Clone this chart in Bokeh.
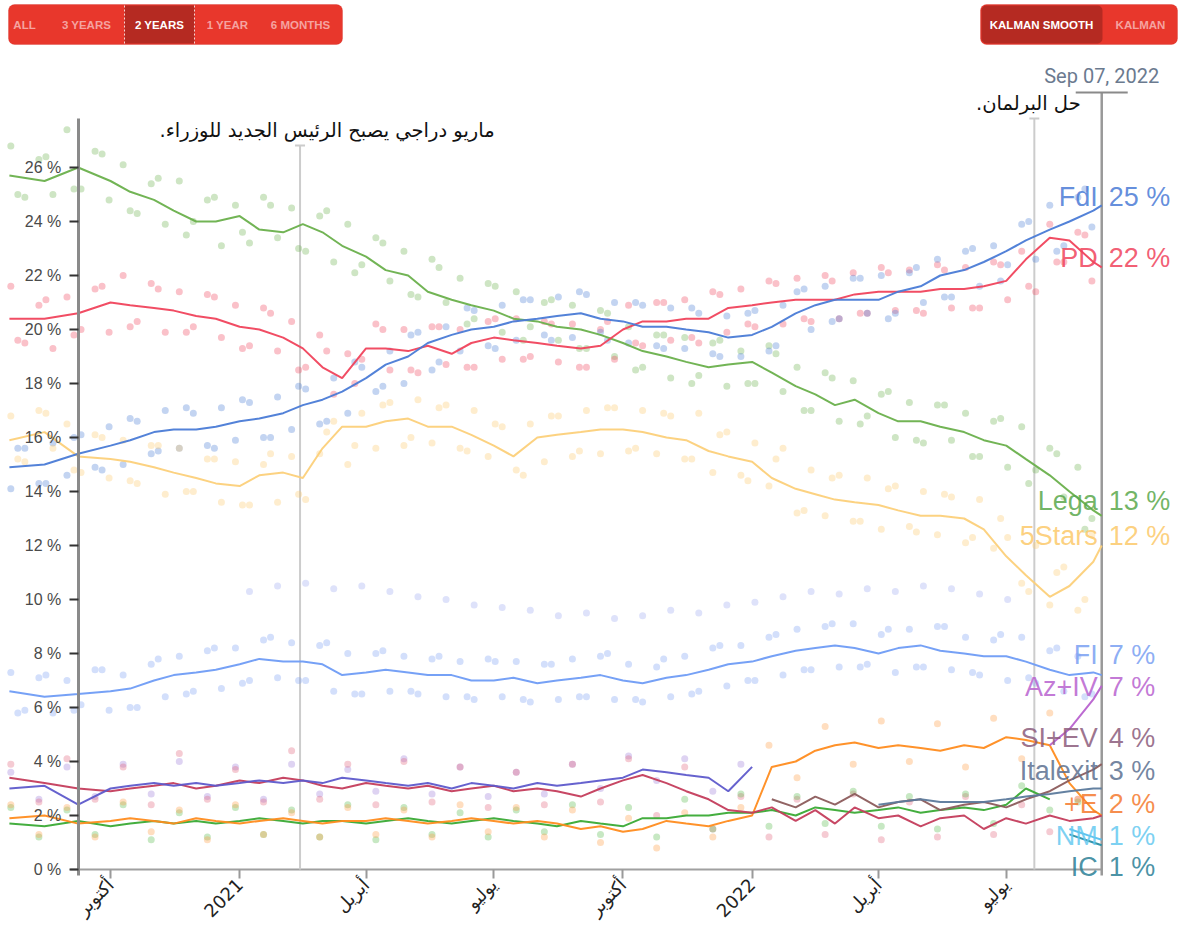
import numpy as np
import pandas as pd
from math import pi
from bokeh.plotting import figure
from bokeh.models import (ColumnDataSource, Range1d, LinearAxis, FixedTicker,
                          PrintfTickFormatter, BoxAnnotation, Label, LabelSet)
from bokeh.core.properties import value
from bokeh.embed import file_html
from bokeh.resources import INLINE

N = None

# ---------------- data ----------------
line_dates = ["2020-07-21", "2020-08-15", "2020-09-08", "2020-10-01", "2020-10-15", "2020-11-01",
              "2020-11-15", "2020-12-01", "2020-12-15", "2021-01-01", "2021-01-15", "2021-02-01",
              "2021-02-15", "2021-03-01", "2021-03-15", "2021-04-01", "2021-04-15", "2021-05-01",
              "2021-05-15", "2021-06-01", "2021-06-15", "2021-07-01", "2021-07-15", "2021-08-01",
              "2021-08-15", "2021-09-01", "2021-09-15", "2021-10-01", "2021-10-15", "2021-11-01",
              "2021-11-15", "2021-12-01", "2021-12-15", "2022-01-01", "2022-01-15", "2022-02-01",
              "2022-02-15", "2022-03-01", "2022-03-15", "2022-04-01", "2022-04-15", "2022-05-01",
              "2022-05-15", "2022-06-01", "2022-06-15", "2022-07-01", "2022-07-15", "2022-08-01",
              "2022-08-15", "2022-09-01", "2022-09-07"]

lega = [25.7, 25.5, 26.0, 25.5, 25.1, 24.8, 24.4, 24.0, 24.0, 24.2, 23.7, 23.6, 23.9, 23.6, 23.1,
        22.7, 22.2, 22.0, 21.4, 21.1, 20.9, 20.7, 20.4, 20.3, 20.1, 20.0, 19.8, 19.5, 19.2, 19.0,
        18.8, 18.6, 18.7, 18.8, 18.4, 17.9, 17.6, 17.2, 17.4, 16.9, 16.6, 16.6, 16.4, 16.2, 15.9,
        15.7, 15.2, 14.6, 14.0, 13.3, 13.1]
m5s = [15.9, 16.2, 15.3, 15.2, 15.1, 14.9, 14.7, 14.5, 14.3, 14.2, 14.6, 14.7, 14.5, 15.6, 16.4,
       16.4, 16.6, 16.7, 16.4, 16.4, 16.1, 15.7, 15.3, 16.0, 16.1, 16.2, 16.3, 16.3, 16.2, 16.0,
       15.9, 15.5, 15.3, 15.1, 14.5, 14.1, 13.9, 13.7, 13.6, 13.5, 13.3, 13.1, 13.1, 13.0, 12.6,
       11.6, 10.9, 10.1, 10.5, 11.4, 12.0]
pd_ = [20.4, 20.4, 20.6, 21.0, 20.9, 20.8, 20.7, 20.5, 20.4, 20.1, 20.0, 19.7, 19.3, 18.6, 18.2,
       19.3, 19.3, 19.2, 19.4, 19.1, 19.5, 19.7, 19.6, 19.5, 19.4, 19.3, 19.4, 20.0, 20.3, 20.3,
       20.4, 20.4, 20.8, 20.9, 21.0, 21.1, 21.1, 21.1, 21.3, 21.4, 21.4, 21.4, 21.5, 21.5, 21.6,
       21.8, 22.6, 23.4, 23.3, 22.5, 22.3]
fdi = [14.9, 15.0, 15.4, 15.7, 15.9, 16.2, 16.3, 16.3, 16.4, 16.6, 16.7, 16.9, 17.2, 17.4, 17.7,
       18.2, 18.7, 19.0, 19.5, 19.8, 20.0, 20.1, 20.3, 20.4, 20.5, 20.6, 20.4, 20.3, 20.1, 20.1,
       20.0, 19.9, 19.7, 19.8, 20.1, 20.6, 20.9, 21.1, 21.1, 21.1, 21.4, 21.6, 22.0, 22.2, 22.5,
       22.9, 23.3, 23.7, 24.0, 24.4, 24.6]
fi = [6.6, 6.4, 6.5, 6.6, 6.7, 7.0, 7.2, 7.3, 7.4, 7.6, 7.8, 7.7, 7.7, 7.6, 7.2, 7.3, 7.4, 7.3,
      7.2, 7.2, 7.0, 7.0, 7.1, 6.9, 7.0, 7.1, 7.2, 7.0, 6.9, 7.1, 7.2, 7.4, 7.6, 7.7, 7.9, 8.1,
      8.2, 8.3, 8.2, 8.0, 8.2, 8.3, 8.1, 8.0, 7.9, 7.9, 7.7, 7.4, 7.2, 7.3, 7.2]
iv = [3.0, 3.1, 2.4, 3.0, 3.1, 3.2, 3.1, 3.2, 3.1, 3.2, 3.3, 3.2, 3.3, 3.2, 3.4, 3.3, 3.2, 3.1,
      3.2, 3.0, 3.2, 3.1, 3.0, 3.2, 3.1, 3.2, 3.3, 3.4, 3.7, 3.6, 3.5, 3.4, 2.9, 3.8] + [N] * 17
si = [3.4, 3.2, 3.0, 2.9, 3.0, 3.1, 3.2, 3.0, 3.1, 3.3, 3.2, 3.4, 3.3, 3.1, 3.0, 3.2, 3.1, 3.0,
      3.1, 2.9, 3.0, 3.1, 2.9, 3.0, 2.9, 2.7, 3.0, 3.3, 3.5, 3.2, 2.9, 2.6, 2.2, 2.1, 2.3, 1.8,
      2.2, 1.7, 2.3, 1.9, 2.0, 1.6, 1.9, 2.0, 1.5, 1.9, 1.7, 2.0, 1.8, 1.9, 2.0]
ev = [1.7, 1.6, 1.8, 1.6, 1.7, 1.8, 1.7, 1.8, 1.7, 1.8, 1.9, 1.8, 1.7, 1.8, 1.8, 1.7, 1.8, 1.9,
      1.8, 1.7, 1.8, 1.9, 1.8, 1.7, 1.6, 1.8, 1.7, 1.6, 1.9, 1.9, 2.0, 2.0, 2.1, 2.1, 2.2, 2.0,
      2.3, 2.2, 2.1, 2.2, 2.3, 2.1, 2.2, 2.3, 2.2, 2.4, 3.0, 2.6, N, N, N]
pe = [1.9, 2.0, 1.7, 1.8, 1.9, 1.8, 1.7, 1.9, 1.8, 1.7, 1.8, 1.9, 1.8, 1.7, 1.8, 1.8, 1.9, 1.8,
      1.7, 1.8, 1.9, 1.8, 1.7, 1.8, 1.7, 1.5, 1.6, 1.4, 1.5, 1.8, 1.7, 1.6, 1.8, 2.0, 3.8, 4.0,
      4.4, 4.6, 4.7, 4.5, 4.6, 4.5, 4.4, 4.6, 4.5, 4.9, 4.8, 4.6, 3.2, 2.2, 2.0]
siev = [N] * 34 + [2.6, 2.3, 2.7, 2.4, 2.8, 2.3, 2.5, 2.6, 2.2, 2.4, 2.5, 2.3, 2.6, 2.9, 3.3, 3.7, 3.9]
italexit = [N] * 39 + [2.4, 2.5, 2.6, 2.5, 2.5, 2.5, 2.6, 2.7, 2.8, 2.9, 3.0, 3.0]
aziv = [N] * 47 + [4.6, 5.2, 6.3, 6.8]
nm = [N] * 48 + [1.5, 1.2, 1.1]
ic = [N] * 48 + [1.3, 1.0, 0.9]

# individual polls, first group of pollsters (every ~10 days)
poll_dates = pd.date_range("2020-07-22", periods=78, freq="10D")
lega_polls = [26.8, 24.9, 26.3, 25.0, 27.4, 25.2, 26.6, 24.8, 26.1, 24.3, 25.4, 23.9, 25.5, 24.0,
              24.8, 23.1, 24.6, 23.2, 24.9, 23.4, 24.5, 22.9, 24.2, 22.5, 23.9, 22.4, 23.4, 21.8,
              22.9, 21.2, 22.6, 21.0, 21.9, 20.4, 21.7, 19.9, 21.4, 20.1, 21.0, 19.6, 20.9, 19.3,
              20.7, 19.0, 20.1, 18.6, 19.8, 18.2, 19.7, 18.3, 19.5, 17.9, 19.2, 18.0, 19.4, 17.7,
              18.6, 17.0, 18.4, 16.6, 18.1, 16.8, 17.6, 16.0, 17.3, 15.8, 17.2, 15.9, 16.9, 15.3,
              16.6, 14.9, 16.4, 14.8, 15.6, 13.8, 14.9, 13.0]
pd_polls = [21.6, 19.5, 20.9, 19.3, 21.2, 20.0, 21.5, 19.9, 22.0, 20.3, 21.7, 19.9, 21.4, 20.1,
            21.3, 19.7, 20.9, 19.4, 20.8, 19.2, 20.3, 18.6, 19.8, 17.6, 19.1, 18.9, 20.2, 18.5,
            20.0, 18.4, 20.1, 18.7, 20.0, 18.6, 20.3, 18.9, 20.4, 19.0, 20.3, 18.8, 20.2, 18.6,
            20.0, 18.9, 20.9, 19.4, 21.0, 19.6, 21.1, 19.5, 21.4, 19.9, 21.5, 20.1, 21.8, 20.2,
            21.9, 20.3, 22.0, 20.4, 22.1, 20.6, 22.3, 20.7, 22.2, 20.6, 22.4, 20.8, 22.3, 20.8,
            22.5, 21.1, 22.9, 21.4, 23.9, 22.5, 23.6, 21.8]
fdi_polls = [14.1, 15.6, 14.3, 15.8, 14.6, 16.1, 14.9, 16.4, 15.0, 16.6, 15.4, 17.0, 15.6, 16.9,
             15.7, 17.1, 15.9, 17.3, 16.0, 17.5, 16.3, 17.8, 16.5, 18.2, 16.9, 18.6, 17.7, 19.2,
             18.0, 19.9, 18.5, 20.1, 19.2, 20.7, 19.4, 20.9, 19.6, 21.1, 19.8, 21.2, 19.7, 21.3,
             19.9, 21.0, 19.5, 20.9, 19.4, 20.8, 19.3, 20.6, 19.1, 20.5, 19.0, 20.7, 19.2, 20.9,
             21.4, 20.0, 21.6, 20.4, 21.9, 20.6, 22.0, 20.6, 22.1, 21.0, 22.6, 21.2, 22.9, 21.6,
             23.1, 22.4, 23.9, 22.6, 24.6, 23.1, 24.9, 23.8]
m5s_polls = [16.8, 15.1, 17.0, 15.6, 16.5, 14.7, 16.1, 14.5, 15.9, 14.3, 15.7, 13.9, 15.6, 14.0,
             15.2, 13.6, 15.1, 13.5, 15.0, 13.6, 15.3, 13.7, 15.4, 16.6, 15.0, 16.9, 15.6, 17.3,
             15.7, 17.4, 15.8, 17.2, 15.6, 17.0, 15.3, 16.4, 14.8, 16.5, 15.1, 16.8, 15.3, 17.0,
             15.4, 17.1, 15.5, 17.0, 15.4, 16.8, 15.2, 16.9, 14.7, 16.2, 14.6, 15.8, 14.2, 15.6,
             13.2, 14.8, 13.1, 14.6, 12.9, 14.5, 12.6, 14.2, 12.7, 14.0, 12.4, 13.8, 12.1, 13.7,
             11.9, 12.3, 10.6, 12.0, 9.8, 11.2, 9.6, 12.4]
fi_polls = [7.3, 5.9, 7.1, 5.8, 7.0, 6.1, 7.4, 5.9, 7.2, 6.0, 7.6, 6.4, 7.9, 6.6, 8.1, 6.7, 8.2,
            7.0, 8.5, 7.1, 8.4, 7.0, 8.3, 6.6, 8.0, 6.5, 8.0, 6.6, 7.9, 6.5, 7.8, 6.4, 7.7, 6.3,
            7.8, 6.4, 7.7, 6.2, 7.6, 6.3, 7.8, 6.4, 7.9, 6.3, 7.6, 6.2, 7.5, 6.4, 7.9, 6.6, 8.2,
            6.8, 8.3, 7.0, 8.6, 7.2, 8.9, 7.4, 9.0, 7.5, 9.1, 7.6, 8.7, 7.3, 8.9, 7.5, 9.0, 7.4,
            8.6, 7.2, 8.5, 7.0, 8.6, 6.9, 8.1, 6.6, 7.9, 6.5]

# second group of pollsters (every ~20 days)
poll_dates2 = pd.date_range("2020-07-27", periods=39, freq="20D")
lega_polls2 = [25.0, 26.4, 25.2, 26.5, 24.4, 25.6, 23.5, 24.9, 23.6, 24.6, 23.0, 24.4, 22.1, 23.2,
               21.3, 22.3, 20.2, 21.6, 19.6, 21.1, 19.3, 20.6, 18.5, 19.8, 18.0, 19.6, 18.0, 19.1,
               17.0, 18.2, 16.5, 17.7, 15.9, 17.2, 15.3, 16.7, 14.3, 15.4, 12.6]
pd_polls2 = [19.6, 21.1, 19.8, 21.6, 20.1, 21.5, 19.9, 21.2, 19.3, 20.6, 18.5, 19.2, 18.0, 20.0,
             18.5, 20.1, 18.6, 20.4, 18.9, 20.2, 18.6, 20.3, 19.5, 21.0, 19.7, 21.3, 20.2, 21.7,
             20.4, 21.8, 20.6, 22.1, 20.7, 22.2, 20.8, 22.4, 21.6, 22.5, 23.5]
fdi_polls2 = [15.6, 14.3, 16.0, 14.8, 16.7, 15.5, 17.1, 15.6, 17.4, 16.0, 17.9, 16.6, 18.8, 17.9,
              19.8, 18.8, 20.8, 19.3, 21.1, 19.6, 21.4, 19.6, 21.0, 19.3, 20.8, 19.0, 20.6, 19.4,
              21.5, 20.3, 21.9, 20.4, 22.3, 21.2, 23.0, 21.8, 24.0, 22.9, 25.2]
m5s_polls2 = [15.2, 16.9, 14.8, 16.0, 14.4, 15.7, 14.0, 15.2, 13.5, 15.4, 13.9, 16.2, 15.7, 17.2,
              16.0, 17.1, 15.5, 16.5, 14.6, 16.8, 15.5, 17.1, 15.6, 16.9, 15.2, 16.1, 14.4, 15.2,
              13.3, 14.5, 12.9, 14.1, 12.5, 13.9, 12.3, 13.0, 10.3, 11.0, 10.0]
fi_polls2 = [5.8, 7.2, 5.9, 7.4, 6.0, 7.8, 6.5, 8.2, 6.9, 8.6, 7.0, 8.4, 6.5, 8.1, 6.6, 7.9, 6.4,
             7.7, 6.3, 7.6, 6.4, 8.0, 6.3, 7.8, 6.5, 8.3, 7.0, 8.7, 7.4, 9.1, 7.5, 8.9, 7.5, 9.0,
             7.3, 8.7, 7.1, 8.2, 6.4]

fi_high_dates = poll_dates[17:73:2]
fi_high = [10.3, 10.5, 10.6, 10.4, 10.5, 10.3, 10.1, 10.0, 9.8, 9.7, 9.6, 9.4, 9.5, 9.3, 9.4,
           9.6, 9.5, 9.8, 9.9, 10.1, 10.3, 10.2, 10.4, 10.3, 10.5, 10.4, 10.2, 10.0]
small_dates = poll_dates[0:77:2]
iv_dots = [3.6, 2.6, 3.8, 2.7, 3.9, 2.8, 4.0, 2.7, 3.8, 2.6, 3.9, 2.8, 3.7, 2.9, 4.1, 2.8, 3.8,
           2.7, 3.6, 2.8, 3.9, 3.0, 4.2, 3.3, 4.1, 2.9, 3.9]
si_dots = [3.9, 2.5, 4.1, 2.6, 3.8, 2.4, 4.3, 2.6, 3.7, 2.5, 4.4, 2.6, 3.9, 2.4, 4.0, 2.5, 3.8,
           2.3, 3.6, 2.4, 3.9, 2.5, 4.1, 2.0, 3.8, 1.5, 2.7, 1.2, 2.6, 1.3, 2.8, 1.1, 2.5, 1.2,
           2.7, 1.3, 2.4, 1.4, 2.6]
ev_dots = [2.3, 1.2, 2.2, 1.3, 2.4, 1.1, 2.1, 1.2, 2.3, 1.3, 2.2, 1.2, 2.4, 1.1, 2.3, 1.3, 2.1,
           1.2, 2.2, 1.4, 2.4, 1.3, 2.3, 1.2, 2.6, 1.5, 2.8, 1.6, 2.7, 1.7, 2.9, 1.6, 2.7, 1.5,
           2.8, 1.7, 3.1, 2.2, 2.5]
pe_dots = [2.4, 1.3, 2.3, 1.2, 2.5, 1.4, 2.2, 1.1, 2.4, 1.3, 2.1, 1.2, 2.3, 1.3, 2.2, 1.2, 2.4,
           1.4, 2.3, 1.2, 2.2, 1.0, 1.9, 0.8, 2.1, 1.2, 2.3, 4.6, 3.4, 5.3, 3.9, 5.5, 4.0, 5.4,
           3.8, 5.6, 4.1, 5.8, 2.6]

# end labels
label_names = ["FdI", "PD", "Lega", "5Stars", "FI", "Az+IV", "SI+EV", "Italexit", "+E", "NM", "IC"]
label_pcts = ["25 %", "22 %", "13 %", "12 %", "7 %", "7 %", "4 %", "3 %", "2 %", "1 %", "1 %"]
label_colors = ["#4a7bd6", "#f0435c", "#5aa84c", "#fcc96a", "#7a9ff2", "#b862cf", "#8c5c7c",
                "#5c7090", "#f57a2e", "#66c9f0", "#2c8096"]

# events
events = ["2021-02-13", "2022-07-21"]
event_texts = ["ماريو دراجي يصبح الرئيس الجديد للوزراء.\u200f", "حل البرلمان.\u200f"]
today = "2022-09-07"

tick_dates = ["2020-10-01", "2021-01-01", "2021-04-01", "2021-07-01",
              "2021-10-01", "2022-01-01", "2022-04-01", "2022-07-01"]
tick_labels = ["أكتوبر", "2021", "أبريل", "يوليو", "أكتوبر", "2022", "أبريل", "يوليو"]
y_ticks = list(range(0, 27, 2))


# ---------------- helpers (layout only) ----------------
def ms(s):
    return pd.Timestamp(s).value / 1e6


X0 = ms("2020-10-01")
DAY = 86400000.0
PXD = 1.404


def xr(px):
    return X0 + (px - 110) / PXD * DAY


def yr(py):
    return (869 - py) / 27.0


def arr(v):
    return np.array(v, dtype=float)


W, H = 1186, 943
FB = 876  # frame bottom (px); 0 % sits at 869
ld = pd.to_datetime(line_dates)
axis_x = ms("2020-09-08")
t_ms = ms(today)

p = figure(width=W, height=H, x_range=Range1d(xr(0), xr(W)), y_range=Range1d(yr(FB), yr(0)),
           x_axis_type=None, y_axis_type=None, toolbar_location=None, output_backend="svg",
           min_border_left=0, min_border_right=0, min_border_top=0, min_border_bottom=H - FB)
p.outline_line_color = None
p.background_fill_color = "white"

# x axis (line drawn at 0 %, ticks reach from 0 % downward)
tick_ms = [int(ms(d)) for d in tick_dates]
xaxis = LinearAxis(ticker=FixedTicker(ticks=tick_ms),
                   major_label_overrides={t: l for t, l in zip(tick_ms, tick_labels)})
xaxis.major_label_orientation = pi / 4
xaxis.major_label_text_font = "DejaVu Sans"
xaxis.major_label_text_font_size = "18px"
xaxis.major_label_text_color = "#222222"
xaxis.axis_line_color = None
xaxis.major_tick_line_color = "#9a9a9a"
xaxis.major_tick_line_width = 2
xaxis.major_tick_in = FB - 869
xaxis.major_tick_out = 2
xaxis.minor_tick_line_color = None
xaxis.major_label_standoff = 3
p.add_layout(xaxis, "below")
p.segment(x0=[axis_x - 8 / PXD * DAY], x1=[t_ms], y0=[0], y1=[0], line_color="#a0a0a0",
          line_width=2)

yaxis = LinearAxis(fixed_location=axis_x, ticker=FixedTicker(ticks=y_ticks),
                   formatter=PrintfTickFormatter(format="%d %%"), bounds=(yr(875), 27.8))
yaxis.axis_line_color = "#8a8a8a"
yaxis.axis_line_width = 3
yaxis.major_tick_line_color = "#333333"
yaxis.major_tick_line_width = 2
yaxis.major_tick_out = 9
yaxis.major_tick_in = 0
yaxis.minor_tick_line_color = None
yaxis.major_label_text_font = "Liberation Sans"
yaxis.major_label_text_font_size = "16px"
yaxis.major_label_text_color = "#4a4a4a"
yaxis.major_label_standoff = 8
p.add_layout(yaxis, "left")

# event lines
ev_ms = [ms(e) for e in events]
p.segment(x0=ev_ms, x1=ev_ms, y0=[0, 0], y1=[yr(145), yr(118)], line_color="#cccccc", line_width=2)
p.segment(x0=[e - 5 / PXD * DAY for e in ev_ms], x1=[e + 5 / PXD * DAY for e in ev_ms],
          y0=[yr(145), yr(118)], y1=[yr(145), yr(118)], line_color="#cccccc", line_width=2)
p.segment(x0=[t_ms], x1=[t_ms], y0=[yr(875)], y1=[yr(92)], line_color="#999999", line_width=2.5)
p.segment(x0=[t_ms - 26 / PXD * DAY], x1=[t_ms + 26 / PXD * DAY], y0=[yr(92)], y1=[yr(92)],
          line_color="#8a8a8a", line_width=2)

# poll dots
dot_sets = [
    (poll_dates, lega_polls, "#6ab04c"), (poll_dates, pd_polls, "#f0435c"),
    (poll_dates, fdi_polls, "#4a7bd6"), (poll_dates, m5s_polls, "#fcc96a"),
    (poll_dates, fi_polls, "#7a9ff2"),
    (poll_dates2, lega_polls2, "#6ab04c"), (poll_dates2, pd_polls2, "#f0435c"),
    (poll_dates2, fdi_polls2, "#4a7bd6"), (poll_dates2, m5s_polls2, "#fcc96a"),
    (poll_dates2, fi_polls2, "#7a9ff2"), (fi_high_dates, fi_high, "#9aa8f0"),
    (small_dates[:len(iv_dots)], iv_dots, "#9a78d8"), (small_dates, si_dots, "#e0607a"),
    (small_dates, ev_dots, "#55b84a"), (small_dates, pe_dots, "#ff9a40"),
]
for dts, vals, col in dot_sets:
    p.scatter(x=dts, y=vals, size=7, fill_color=col, fill_alpha=0.33, line_color=None)

# smoothed lines
line_sets = [
    (ev, "#3aaa35"), (pe, "#ff8c1f"), (si, "#c43d5c"), (iv, "#5e5acb"), (siev, "#8c5c5c"),
    (italexit, "#5c7a9c"), (nm, "#55c0ee"), (ic, "#2a8fa6"), (aziv, "#b862cf"),
    (fi, "#6f9cf5"), (m5s, "#fcd07a"), (lega, "#6ab04c"), (pd_, "#f0435c"), (fdi, "#4a7bd6"),
]
for vals, col in line_sets:
    p.line(x=ld, y=arr(vals), line_color=col, line_width=2, line_alpha=0.95)

# end labels
lab_y = [yr(v) for v in [196, 257, 500, 535, 654, 686, 737, 770, 803, 835, 866]]
src = ColumnDataSource(dict(x=[t_ms] * len(label_names), y=lab_y, name=label_names,
                            pct=label_pcts, color=label_colors))
p.add_layout(LabelSet(x="x", y="y", text="name", source=src, text_align="right",
                      text_baseline="middle", x_offset=-4, text_color="color", text_alpha=0.85,
                      text_font_size="27px", text_font=value("Liberation Sans")))
p.add_layout(LabelSet(x="x", y="y", text="pct", source=src, text_align="left",
                      text_baseline="middle", x_offset=7, text_color="color", text_alpha=0.85,
                      text_font_size="27px", text_font=value("Liberation Sans")))

# event labels
p.add_layout(Label(x=ev_ms[0], y=yr(130), text=event_texts[0], text_align="center",
                   text_baseline="middle", x_offset=27, text_font="DejaVu Sans",
                   text_font_size="19.5px", text_color="#111111"))
p.add_layout(Label(x=ev_ms[1], y=yr(103), text=event_texts[1], text_align="center",
                   text_baseline="middle", x_offset=-6, text_font="DejaVu Sans",
                   text_font_size="19.5px", text_color="#111111"))
p.add_layout(Label(x=t_ms, y=yr(75), text="Sep 07, 2022", text_align="center",
                   text_baseline="middle", text_font="Roboto", text_font_size="20px",
                   text_color="#6b7a8f"))

# buttons
RED, DARK = "#e8372c", "#b52a22"
p.add_layout(BoxAnnotation(left=xr(8), right=xr(342), top=yr(4), bottom=yr(44), fill_color=RED,
                           fill_alpha=1, line_color="#d42a20", line_width=1, border_radius=6))
p.add_layout(BoxAnnotation(left=xr(124), right=xr(194), top=yr(5), bottom=yr(43), fill_color=DARK,
                           fill_alpha=1, line_color=None))
p.add_layout(BoxAnnotation(left=xr(980), right=xr(1177), top=yr(4), bottom=yr(44), fill_color=RED,
                           fill_alpha=1, line_color="#d42a20", line_width=1, border_radius=6))
p.add_layout(BoxAnnotation(left=xr(981), right=xr(1102), top=yr(5), bottom=yr(43), fill_color=DARK,
                           fill_alpha=1, line_color=None, border_radius=5))
dots = p.segment(x0=[xr(124), xr(194)], x1=[xr(124), xr(194)], y0=[yr(5)] * 2, y1=[yr(43)] * 2,
                 line_color="white", line_width=1, line_dash="2 2", line_alpha=0.8)
dots.level = "overlay"
buttons = [(24, "ALL", "#f5a3a0"), (86, "3 YEARS", "#f5a3a0"), (159, "2 YEARS", "#ffffff"),
           (227, "1 YEAR", "#f5a3a0"), (300, "6 MONTHS", "#f5a3a0"),
           (1041, "KALMAN SMOOTH", "#ffffff"), (1140, "KALMAN", "#f5a3a0")]
for bx, bt, bc in buttons:
    p.add_layout(Label(x=xr(bx), y=yr(24), text=bt, text_align="center", text_baseline="middle",
                       text_font="Liberation Sans", text_font_style="bold",
                       text_font_size="11.5px", text_color=bc))

open("out.html", "w").write(file_html(p, INLINE))
